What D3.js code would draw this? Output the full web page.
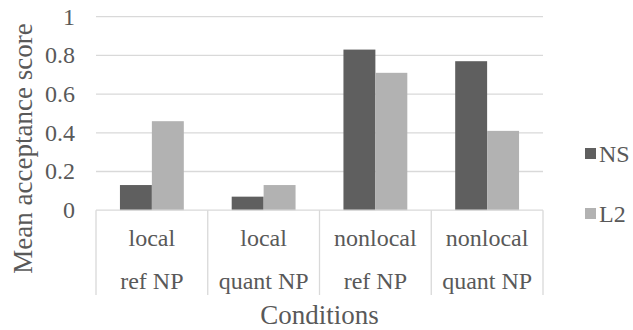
<!DOCTYPE html>
<html><head><meta charset="utf-8">
<script src="https://cdn.jsdelivr.net/npm/d3@7"></script>
<style>body{margin:0;background:#fff}svg{display:block}text{font-family:"Liberation Serif","Times New Roman",serif;fill:#595959}</style>
</head><body><svg id="c" width="633" height="330"></svg>
<script>
const categories = [["local","ref NP"],["local","quant NP"],["nonlocal","ref NP"],["nonlocal","quant NP"]];
const series = ["NS","L2"];
const NS = [0.13, 0.07, 0.83, 0.77];
const L2 = [0.46, 0.13, 0.71, 0.41];
const yTicks = [0, 0.2, 0.4, 0.6, 0.8, 1];
const colors = {NS:"#5f5f5f", L2:"#b2b2b2"};
const values = {NS, L2};

const svg = d3.select("#c");
const L = 96, R = 543, T = 16.7, B = 210.2;
const idx = categories.map((d,i)=>i);
const x0 = d3.scaleBand().domain(idx).range([L,R]).padding(0);
const x1 = d3.scaleBand().domain(series).range([0,x0.bandwidth()]).paddingInner(0).paddingOuter(0.75);
const y = d3.scaleLinear().domain([0,1]).range([B,T]);

// gridlines
svg.append("g").selectAll("line").data(yTicks.filter(d=>d>0)).join("line")
  .attr("x1",L).attr("x2",R).attr("y1",d=>y(d)).attr("y2",d=>y(d))
  .attr("stroke","#d9d9d9").attr("stroke-width",1.3);

// y tick labels
svg.append("g").selectAll("text").data(yTicks).join("text")
  .attr("x",75).attr("y",d=>y(d)).attr("dy","0.33em").attr("text-anchor","end")
  .attr("font-size",24).text(d=>d3.format("")(d));

// bars
series.forEach(s=>{
  svg.append("g").selectAll("rect").data(values[s]).join("rect")
    .attr("x",(d,i)=>x0(i)+x1(s)).attr("width",x1.bandwidth())
    .attr("y",d=>y(d)).attr("height",d=>y(0)-y(d)).attr("fill",colors[s]);
});

// x axis baseline and separators
svg.append("line").attr("x1",L).attr("x2",R).attr("y1",B).attr("y2",B).attr("stroke","#d9d9d9").attr("stroke-width",1.3);
const seps = idx.map(i=>x0(i)).concat([R]);
svg.append("g").selectAll("line").data(seps).join("line")
  .attr("x1",d=>d).attr("x2",d=>d).attr("y1",B).attr("y2",295)
  .attr("stroke","#d9d9d9").attr("stroke-width",1.3);

// category labels
const cg = svg.append("g").selectAll("g").data(categories).join("g");
cg.append("text").attr("x",(d,i)=>x0(i)+x0.bandwidth()/2).attr("y",246).attr("text-anchor","middle").attr("font-size",24).text(d=>d[0]);
cg.append("text").attr("x",(d,i)=>x0(i)+x0.bandwidth()/2).attr("y",289).attr("text-anchor","middle").attr("font-size",24).text(d=>d[1]);

// axis titles
svg.append("text").attr("x",(L+R)/2).attr("y",324).attr("text-anchor","middle").attr("font-size",27).text("Conditions");
svg.append("text").attr("transform",`translate(32,148.5) rotate(-90)`).attr("text-anchor","middle").attr("font-size",27).text("Mean acceptance score");

// legend
const lg = svg.append("g").selectAll("g").data(series).join("g").attr("transform",(d,i)=>`translate(585,${154+i*60})`);
lg.append("rect").attr("x",0).attr("y",-6).attr("width",11).attr("height",11).attr("fill",d=>colors[d]);
lg.append("text").attr("x",14).attr("y",0).attr("dy","0.35em").attr("font-size",24).text(d=>d);
</script></body></html>
